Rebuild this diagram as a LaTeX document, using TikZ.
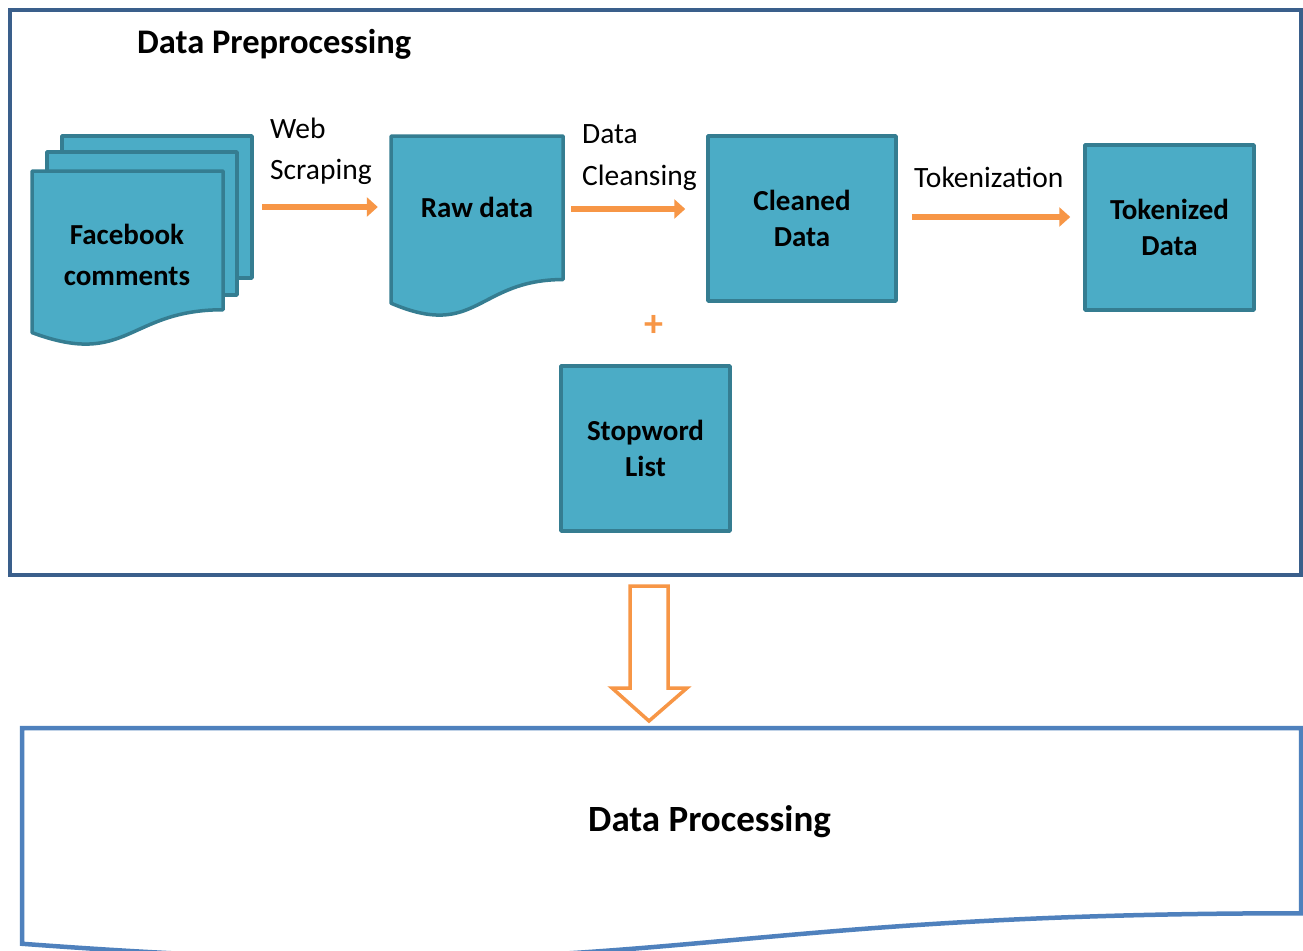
\documentclass[tikz,border=0pt]{standalone}
\usepackage{fontspec}
\setmainfont{Carlito}
\usetikzlibrary{arrows.meta}

\definecolor{framebl}{HTML}{3A5F8B}
\definecolor{procbl}{HTML}{4F81BD}
\definecolor{boxfill}{HTML}{4BACC6}
\definecolor{boxline}{HTML}{357D91}
\definecolor{flowor}{HTML}{F79646}

% flowchart "document" outline: x, y (top left), width, height
\newcommand\docoutline[5]{%
  \path[#1] (#2,#3) -- (#2+#4,#3) -- (#2+#4,#3+0.802*#5)
    .. controls (#2+0.5*#4,#3+0.802*#5) and (#2+0.5*#4,#3+1.14*#5)
    .. (#2,#3+0.934*#5) -- cycle;}

\tikzset{
  shapeline/.style={draw=boxline, fill=boxfill, line width=3.5pt, line join=round},
  sqbox/.style={shapeline, rectangle, inner sep=0pt, align=center,
    font=\bfseries\fontsize{29}{36}\selectfont},
  boxtext/.style={inner sep=0pt, align=center, font=\bfseries\fontsize{29}{36}\selectfont},
  lbl/.style={inner sep=0pt, anchor=base west, font=\fontsize{29.5}{36}\selectfont},
  flow/.style={draw=flowor, line width=6pt,
    -{Triangle[length=11pt,width=19pt]}},
}

\begin{document}
\begin{tikzpicture}[x=1pt,y=-1pt]
\useasboundingbox (0,0) rectangle (1303,950);
\fill[white] (0,0) rectangle (1303,950);

% preprocessing frame
\draw[framebl, line width=4pt] (10,10) rectangle (1301,575);
\node[inner sep=0pt, anchor=base west, font=\bfseries\fontsize{34.5}{40}\selectfont]
  (title) at (137,53) {Data Preprocessing};

% stack of Facebook comment pages
\draw[shapeline] (62,136) rectangle (252,278);
\draw[shapeline] (47,152) rectangle (237,295);
\docoutline{shapeline}{32}{171}{191}{173}
\node[inner sep=0pt, minimum width=220, minimum height=210] (fbarea) at (142,240) {};
\node[boxtext, font=\bfseries\fontsize{29}{41}\selectfont] (fb) at (127,255) {Facebook\\comments};

% raw data page
\docoutline{shapeline}{391}{136}{172}{179}
\node[inner sep=0pt, minimum width=172, minimum height=179] (rawarea) at (477,225.5) {};
\node[boxtext] (raw) at (477,207) {Raw data};

% plain boxes
\node[sqbox, minimum width=188, minimum height=165] (clean) at (802,218.5) {Cleaned\\Data};
\node[sqbox, minimum width=169, minimum height=165] (tok) at (1169.5,227.5) {Tokenized\\Data};
\node[sqbox, minimum width=169, minimum height=165] (stop) at (645.5,448.5) {Stopword\\List};

\node[inner sep=0pt, text=flowor, font=\bfseries\fontsize{38}{40}\selectfont] (plus) at (654,326) {+};

% flow arrows with their labels
\draw[flow, shorten <=10pt, shorten >=13pt] (fbarea.east |- 0,207) -- (rawarea.west |- 0,207);
\draw[flow, shorten <=8pt, shorten >=21pt] (rawarea.east |- 0,209) -- (clean.west |- 0,209);
\draw[flow, shorten <=14pt, shorten >=13pt] (clean.east |- 0,217) -- (tok.west |- 0,217);

\node[lbl] (ws1) at (270,138.5) {Web};
\node[lbl] (ws2) at (270,179) {Scraping};
\node[lbl] (dc1) at (582,143) {Data};
\node[lbl] (dc2) at (582,185) {Cleansing};
\node[lbl] (tk) at (914,187) {Tokenization};

% hollow block arrow down to the next stage
\draw[flowor, fill=white, line width=3.5pt, line join=miter]
  (630,586) -- (668,586) -- (668,688) -- (687,688) -- (649,721)
  -- (612,688) -- (630,688) -- cycle;

% processing stage
\begin{scope}
  \clip (0,0) rectangle (1303,950);
  \docoutline{draw=procbl, line width=4.5pt, fill=white}{22}{728}{1279}{231}
\end{scope}
\node[inner sep=0pt, anchor=base west, font=\bfseries\fontsize{37}{44}\selectfont]
  (proc) at (588,831) {Data Processing};
\end{tikzpicture}
\end{document}
